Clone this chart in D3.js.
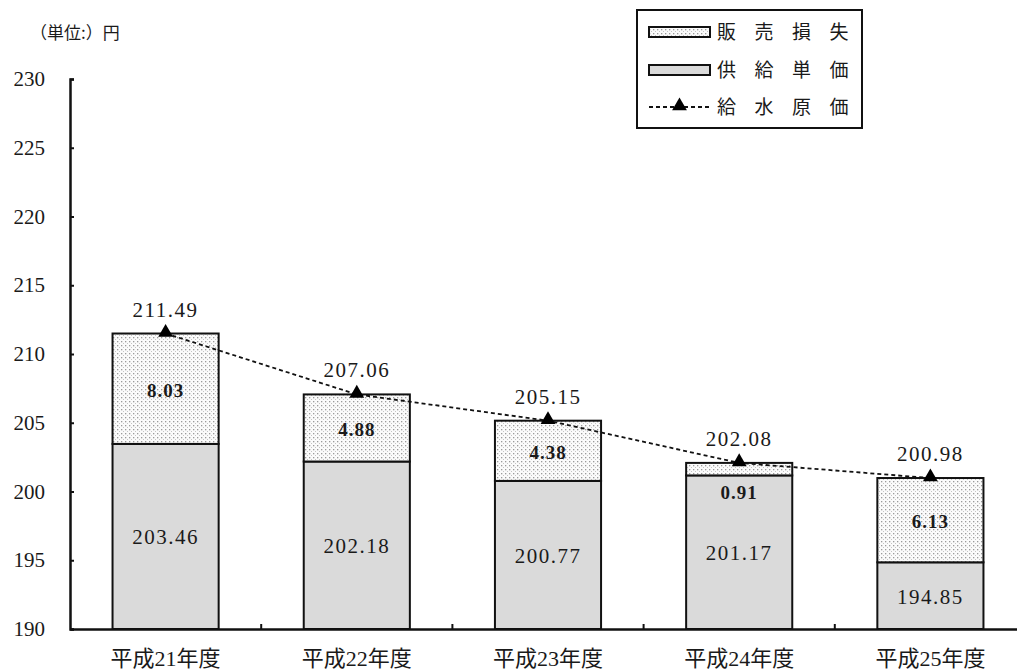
<!DOCTYPE html>
<html lang="ja">
<head>
<meta charset="utf-8">
<script src="https://cdn.jsdelivr.net/npm/d3@7"></script>
<style>
  html, body { margin: 0; padding: 0; background: #fff; }
  svg { display: block; }
  .num { font-family: "Liberation Serif", "Noto Sans CJK JP", serif; fill: #1a1a1a; }
  .jp { font-family: "Noto Sans CJK JP", sans-serif; fill: #1a1a1a; }
</style>
</head>
<body>
<svg id="chart" width="1017" height="670"></svg>
<script>
// 年度ごとの内訳（円）
const years      = ["平成21年度", "平成22年度", "平成23年度", "平成24年度", "平成25年度"];
const unitPrice  = [203.46, 202.18, 200.77, 201.17, 194.85]; // 供給単価
const salesLoss  = [8.03, 4.88, 4.38, 0.91, 6.13];           // 販売損失
const supplyCost = [211.49, 207.06, 205.15, 202.08, 200.98]; // 給水原価
const yTicks     = [190, 195, 200, 205, 210, 215, 220, 225, 230];
const legendLabels = ["販売損失", "供給単価", "給水原価"];

const svg = d3.select("#chart");

const x = d3.scaleBand().domain(years).range([70, 1026]).padding(0);
const y = d3.scaleLinear().domain([190, 230]).range([629, 79]);
const barW = x.bandwidth() * 0.555;
const cx = d => x(d) + x.bandwidth() / 2;

// 点描パターン（販売損失）
const defs = svg.append("defs");
const pat = defs.append("pattern")
  .attr("id", "dots").attr("patternUnits", "userSpaceOnUse")
  .attr("width", 4).attr("height", 4);
pat.append("rect").attr("width", 4).attr("height", 4).attr("fill", "#fbfbfb");
pat.append("rect").attr("x", 1).attr("y", 1).attr("width", 1.3).attr("height", 1.3).attr("fill", "#9a9a9a");
pat.append("rect").attr("x", 3).attr("y", 3).attr("width", 1).attr("height", 1).attr("fill", "#c4c4c4");

const rows = years.map((yr, i) => ({ yr, base: unitPrice[i], loss: salesLoss[i], total: supplyCost[i] }));

// 供給単価の棒
svg.append("g").selectAll("rect").data(rows).join("rect")
  .attr("x", d => cx(d.yr) - barW / 2)
  .attr("y", d => y(d.base))
  .attr("width", barW)
  .attr("height", d => y(190) - y(d.base))
  .attr("fill", "#dadada")
  .attr("stroke", "#111").attr("stroke-width", 2);

// 販売損失の棒（積み上げ）
svg.append("g").selectAll("rect").data(rows).join("rect")
  .attr("x", d => cx(d.yr) - barW / 2)
  .attr("y", d => y(d.base + d.loss))
  .attr("width", barW)
  .attr("height", d => y(d.base) - y(d.base + d.loss))
  .attr("fill", "url(#dots)")
  .attr("stroke", "#111").attr("stroke-width", 2);

// Y軸
const yAxis = svg.append("g").attr("transform", "translate(70,0)")
  .call(d3.axisLeft(y).tickValues(yTicks).tickSize(-4).tickPadding(25).tickFormat(d3.format("d")));
yAxis.select(".domain").attr("stroke", "#111").attr("stroke-width", 2.5);
yAxis.selectAll(".tick line").attr("stroke", "#111").attr("stroke-width", 2);
yAxis.selectAll("text").attr("class", "num").attr("font-size", 21).attr("fill", "#333");

// X軸
const xAxis = svg.append("g").attr("transform", "translate(0,629)")
  .call(d3.axisBottom(x).tickSize(0).tickPadding(21));
xAxis.select(".domain").attr("stroke", "#111").attr("stroke-width", 2.5);
xAxis.selectAll("text").attr("class", "num").attr("font-size", 22).attr("fill", "#222");

// 区切り目盛
svg.append("g").selectAll("line").data(years.slice(1)).join("line")
  .attr("x1", d => x(d)).attr("x2", d => x(d))
  .attr("y1", 629).attr("y2", 624)
  .attr("stroke", "#111").attr("stroke-width", 2);

// 給水原価の折れ線
const line = d3.line().x(d => cx(d.yr)).y(d => y(d.total));
svg.append("path").datum(rows)
  .attr("d", line)
  .attr("fill", "none").attr("stroke", "#111")
  .attr("stroke-width", 1.8).attr("stroke-dasharray", "4,3");

const tri = d3.symbol().type(d3.symbolTriangle).size(95);
svg.append("g").selectAll("path").data(rows).join("path")
  .attr("transform", d => `translate(${cx(d.yr)},${y(d.total) - 1})`)
  .attr("d", tri).attr("fill", "#000");

// ラベル
const fmt = d3.format(".2f");
svg.append("g").selectAll("text").data(rows).join("text")
  .attr("class", "num").attr("text-anchor", "middle")
  .attr("x", d => cx(d.yr)).attr("y", d => y(d.total) - 17)
  .attr("font-size", 21).attr("letter-spacing", 1.5)
  .text(d => fmt(d.total));

svg.append("g").selectAll("text").data(rows).join("text")
  .attr("class", "num").attr("text-anchor", "middle")
  .attr("x", d => cx(d.yr))
  .attr("y", d => (y(d.base) + y(190)) / 2 + 8)
  .attr("font-size", 21).attr("letter-spacing", 1.5)
  .text(d => fmt(d.base));

svg.append("g").selectAll("text").data(rows).join("text")
  .attr("class", "num").attr("text-anchor", "middle").attr("font-weight", "bold")
  .attr("x", d => cx(d.yr))
  .attr("y", d => {
    const h = y(d.base) - y(d.base + d.loss);
    return h < 25 ? y(d.base) + 24 : (y(d.base) + y(d.base + d.loss)) / 2 + 8;
  })
  .attr("font-size", 19).attr("letter-spacing", 1)
  .text(d => fmt(d.loss));

// 単位
svg.append("text").attr("class", "jp")
  .attr("x", 30).attr("y", 39).attr("font-size", 17).attr("fill", "#333")
  .text("（単位:）円");

// 凡例
const lg = svg.append("g");
lg.append("rect").attr("x", 637).attr("y", 10).attr("width", 225).attr("height", 118)
  .attr("fill", "#fff").attr("stroke", "#111").attr("stroke-width", 2);
const rowY = [32, 70, 107];
lg.append("rect").attr("x", 649).attr("y", rowY[0] - 5).attr("width", 61).attr("height", 10)
  .attr("fill", "url(#dots)").attr("stroke", "#111").attr("stroke-width", 2);
lg.append("rect").attr("x", 649).attr("y", rowY[1] - 5).attr("width", 61).attr("height", 10)
  .attr("fill", "#dadada").attr("stroke", "#111").attr("stroke-width", 2);
lg.append("line").attr("x1", 649).attr("x2", 710).attr("y1", rowY[2]).attr("y2", rowY[2])
  .attr("stroke", "#111").attr("stroke-width", 1.8).attr("stroke-dasharray", "4,3");
lg.append("path").attr("transform", `translate(679.5,${rowY[2] - 1})`).attr("d", tri).attr("fill", "#000");
lg.selectAll("text.lgt").data(legendLabels).join("text")
  .attr("class", "jp lgt")
  .attr("x", 717).attr("y", (d, i) => rowY[i] + 7)
  .attr("font-size", 19).attr("letter-spacing", 18.5)
  .text(d => d);
</script>
</body>
</html>
